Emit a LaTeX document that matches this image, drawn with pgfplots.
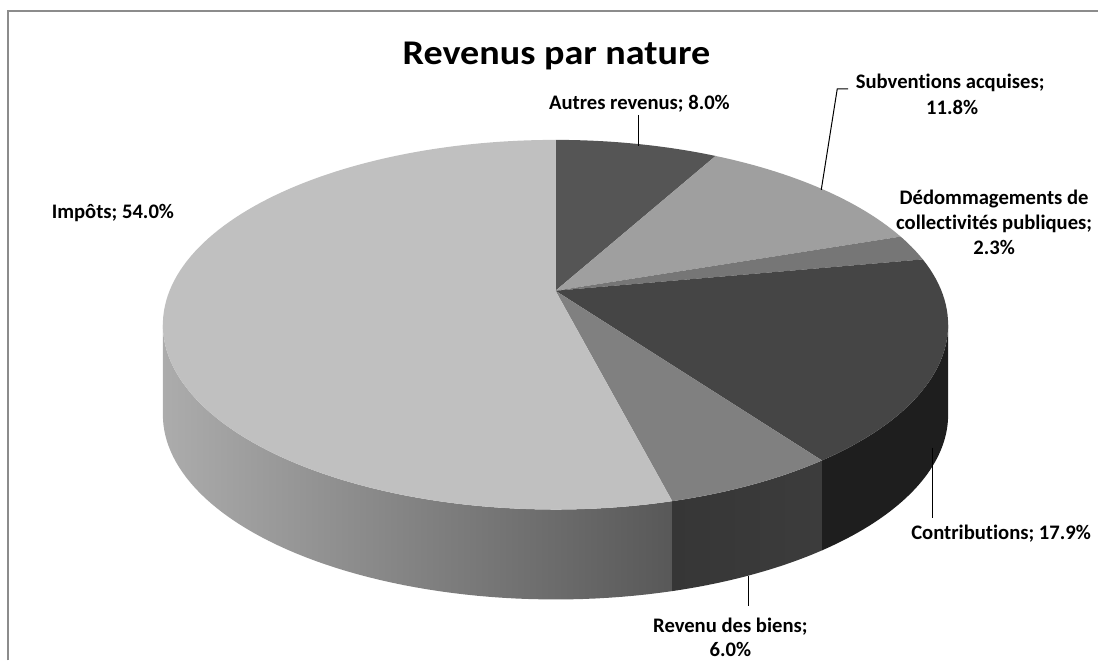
\documentclass[border=0pt]{standalone}
\usepackage{pgfplots}
\pgfplotsset{compat=1.18}
\usepackage{pgfplotstable}
\usepackage{graphicx}
\usepackage{fontspec}
\setmainfont{Carlito}[Ligatures=NoCommon]

\definecolor{cA}{RGB}{85,85,85}
\definecolor{cB}{RGB}{159,159,159}
\definecolor{cC}{RGB}{118,118,118}
\definecolor{cD}{RGB}{69,69,69}
\definecolor{cE}{RGB}{128,128,128}
\definecolor{cF}{RGB}{192,192,192}
\definecolor{sD}{RGB}{30,30,30}
\definecolor{sE}{RGB}{54,54,54}
\definecolor{sEr}{RGB}{60,60,60}
\definecolor{sFl}{RGB}{172,172,172}
\definecolor{sFr}{RGB}{88,88,88}
\definecolor{frame}{RGB}{140,140,140}

% slice values (percent), clockwise from 12 o'clock
\pgfplotstableread{
name value
Autres 8.0
Subventions 11.8
Dedommagements 2.3
Contributions 17.9
Revenu 6.0
Impots 54.0
}\piedata
\pgfplotstablegetelem{0}{value}\of\piedata\let\vA\pgfplotsretval
\pgfplotstablegetelem{1}{value}\of\piedata\let\vB\pgfplotsretval
\pgfplotstablegetelem{2}{value}\of\piedata\let\vC\pgfplotsretval
\pgfplotstablegetelem{3}{value}\of\piedata\let\vD\pgfplotsretval
\pgfplotstablegetelem{4}{value}\of\piedata\let\vE\pgfplotsretval
\pgfplotstablegetelem{5}{value}\of\piedata\let\vF\pgfplotsretval
\pgfmathsetmacro\tA{0}
\pgfmathsetmacro\tB{\tA+3.6*\vA}
\pgfmathsetmacro\tC{\tB+3.6*\vB}
\pgfmathsetmacro\tD{\tC+3.6*\vC}
\pgfmathsetmacro\tE{\tD+3.6*\vD}
\pgfmathsetmacro\tF{\tE+3.6*\vE}
\pgfmathsetmacro\tG{\tF+3.6*\vF}
\pgfmathsetmacro\sR{acos(-0.184)}
\pgfmathsetmacro\sL{360-\sR}

% perspective projection of the pie's top circle (pixel units)
\pgfmathdeclarefunction{pu}{1}{\pgfmathparse{556+393*sin(#1)*0.98293/(1+0.184*cos(#1))}}
\pgfmathdeclarefunction{pv}{1}{\pgfmathparse{325+185*(-cos(#1)-0.184)/(1+0.184*cos(#1))}}
\pgfmathdeclarefunction{pw}{1}{\pgfmathparse{415+185*(-cos(#1)-0.184)/(1+0.184*cos(#1))}}

\begin{document}
\begin{tikzpicture}
\begin{axis}[scale only axis, width=824.25pt, height=495.75pt,
  xmin=0, xmax=1099, ymin=0, ymax=661, y dir=reverse,
  hide axis, clip=false, enlargelimits=false]
\path (axis cs:0,0) rectangle (axis cs:1099,661);
\draw[line width=1.5pt, color=frame] (axis cs:8.5,661) -- (axis cs:8.5,11.5) -- (axis cs:1099,11.5);

% side walls
\shade[left color=sFl, right color=sFr] plot[variable=\t, domain=\tF:\sL, samples=60] ({pu(\t)},{pv(\t)}) -- plot[variable=\t, domain=\sL:\tF, samples=60] ({pu(\t)},{pw(\t)}) -- cycle;
\shade[left color=sE, right color=sEr] plot[variable=\t, domain=\tE:\tF, samples=30] ({pu(\t)},{pv(\t)}) -- plot[variable=\t, domain=\tF:\tE, samples=30] ({pu(\t)},{pw(\t)}) -- cycle;
\fill[sD] plot[variable=\t, domain=\sR:\tE, samples=40] ({pu(\t)},{pv(\t)}) -- plot[variable=\t, domain=\tE:\sR, samples=40] ({pu(\t)},{pw(\t)}) -- cycle;

% top faces
\fill[cA] (axis cs:556,291) -- plot[variable=\t, domain=\tA:\tB, samples=30] ({pu(\t)},{pv(\t)}) -- cycle;
\fill[cB] (axis cs:556,291) -- plot[variable=\t, domain=\tB:\tC, samples=30] ({pu(\t)},{pv(\t)}) -- cycle;
\fill[cC] (axis cs:556,291) -- plot[variable=\t, domain=\tC:\tD, samples=10] ({pu(\t)},{pv(\t)}) -- cycle;
\fill[cD] (axis cs:556,291) -- plot[variable=\t, domain=\tD:\tE, samples=40] ({pu(\t)},{pv(\t)}) -- cycle;
\fill[cE] (axis cs:556,291) -- plot[variable=\t, domain=\tE:\tF, samples=20] ({pu(\t)},{pv(\t)}) -- cycle;
\fill[cF] (axis cs:556,291) -- plot[variable=\t, domain=\tF:\tG, samples=120] ({pu(\t)},{pv(\t)}) -- cycle;

% leader lines
\draw[black, line width=0.75pt] (axis cs:639,115) -- (axis cs:639,146);
\draw[black, line width=0.75pt] (axis cs:822,190) -- (axis cs:838,89) -- (axis cs:849,89);
\draw[black, line width=0.75pt] (axis cs:933,448) -- (axis cs:933,518);
\draw[black, line width=0.75pt] (axis cs:749,577) -- (axis cs:749,607);

% title and labels
\node[anchor=base] at (axis cs:557,65) {\scalebox{1.1}[1]{\bfseries\fontsize{26}{30}\selectfont Revenus par nature}};
\tikzset{lab/.style={anchor=base, inner sep=0pt, font=\bfseries\fontsize{15.5}{19}\selectfont}}
\node[lab] at (axis cs:640,110) {Autres revenus; 8.0\%};
\node[lab] at (axis cs:951,89) {Subventions acquises;};
\node[lab] at (axis cs:953,115) {11.8\%};
\node[lab] at (axis cs:995,205) {Dédommagements de};
\node[lab] at (axis cs:995,230) {collectivités publiques;};
\node[lab] at (axis cs:995,255) {2.3\%};
\node[lab] at (axis cs:1002,540) {Contributions; 17.9\%};
\node[lab] at (axis cs:731,633) {Revenu des biens;};
\node[lab] at (axis cs:731,657) {6.0\%};
\node[lab] at (axis cs:113,219) {Impôts; 54.0\%};
\end{axis}
\end{tikzpicture}
\end{document}
